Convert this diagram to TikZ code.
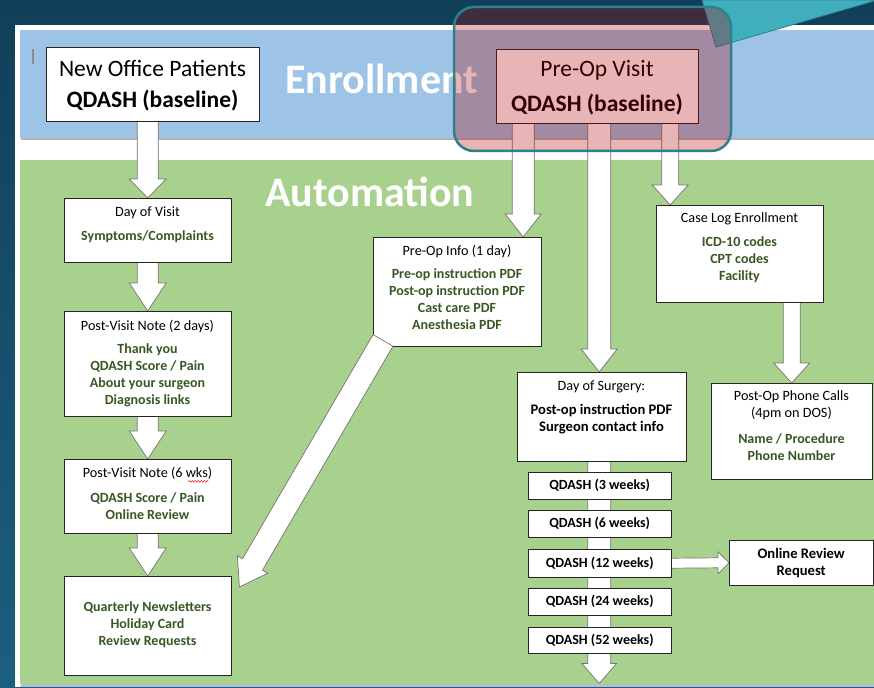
\documentclass[tikz,border=0pt]{standalone}
\usepackage{fontspec}
\setmainfont{Carlito}
\usetikzlibrary{calc,decorations.pathmorphing}
\definecolor{bgtop}{RGB}{17,63,89}
\definecolor{bgbot}{RGB}{27,95,127}
\definecolor{bandblue}{RGB}{157,195,230}
\definecolor{bandgreen}{RGB}{169,209,142}
\definecolor{txtgreen}{RGB}{56,87,35}
\definecolor{tealshape}{RGB}{64,174,188}
\definecolor{tealedge}{RGB}{45,128,140}
\definecolor{ovl}{RGB}{175,0,0}
\newcommand{\barrow}[5]{%
  \path[arr] let \p1=(#1), \p2=(#2),
    \n1={atan2(\y2-\y1,\x2-\x1)}, \n2={veclen(\x2-\x1,\y2-\y1)} in
    [shift={(\p1)}, rotate=\n1]
    (0,-#3) -- ({\n2-#5},-#3) -- ({\n2-#5},-#4) -- (\n2,0) -- ({\n2-#5},#4) -- ({\n2-#5},#3) -- (0,#3) -- cycle;}
\begin{document}
\begin{tikzpicture}[x=1pt,y=-1pt,
  box/.style={inner sep=0pt, anchor=north west},
  arr/.style={draw=black!55, line width=0.7pt, fill=white, line join=miter},
  ttl/.style={font=\fontsize{14.2}{17}\selectfont, inner sep=0pt},
  big/.style={font=\fontsize{23.5}{28}\selectfont, inner sep=0pt},
  bigb/.style={font=\bfseries\fontsize{23.5}{28}\selectfont, inner sep=0pt},
  gb/.style={font=\bfseries\fontsize{14}{17}\selectfont, text=txtgreen, align=center, inner sep=0pt},
  kb/.style={font=\bfseries\fontsize{14.6}{17}\selectfont, align=center, inner sep=0pt},
  qb/.style={font=\bfseries\fontsize{14}{16}\selectfont, inner sep=0pt},
  band/.style={font=\bfseries\fontsize{42}{48}\selectfont, text=white, inner sep=0pt}]
\useasboundingbox (0,0) rectangle (874,687);
% background
\shade[top color=bgtop, bottom color=bgbot] (0,0) rectangle (874,687);
\fill[white] (15,25) rectangle (874,687);
\fill[black!30] (21,32) rectangle (874,140);
\fill[bandblue] (20,30) rectangle (874,138);
\fill[black!25] (21,162) rectangle (874,686);
\fill[bandgreen] (20,160) rectangle (874,684);
\fill[bandblue] (20,686) rectangle (874,687);
\draw[black!45, line width=1.2pt] (33,49) -- (33,64);
\node[band] (enr) at (381.5,79) {Enrollment};
\node[band] (aut) at (370,192) {Automation};
% boxes (positions)
\path
  (46,47) node[box, minimum width=213pt, minimum height=74pt] (newop) {}
  (496,49) node[box, minimum width=202pt, minimum height=74pt] (preop) {}
  (64,198) node[box, minimum width=167pt, minimum height=64pt] (dayv) {}
  (64,311) node[box, minimum width=167pt, minimum height=105pt] (pv2) {}
  (64,459) node[box, minimum width=167pt, minimum height=74pt] (pv6) {}
  (64,576) node[box, minimum width=167pt, minimum height=99pt] (quart) {}
  (373,237) node[box, minimum width=168pt, minimum height=109pt] (preinfo) {}
  (656,205) node[box, minimum width=167pt, minimum height=97pt] (caselog) {}
  (711,383) node[box, minimum width=161pt, minimum height=96pt] (phone) {}
  (517,372) node[box, minimum width=169pt, minimum height=89pt] (dos) {}
  (528,472) node[box, minimum width=143pt, minimum height=27pt] (q3) {}
  (528,510) node[box, minimum width=143pt, minimum height=27pt] (q6) {}
  (528,549) node[box, minimum width=143pt, minimum height=28pt] (q12) {}
  (528,588) node[box, minimum width=143pt, minimum height=27pt] (q24) {}
  (528,627) node[box, minimum width=143pt, minimum height=26pt] (q52) {}
  (729,540) node[box, minimum width=144pt, minimum height=45pt] (review) {};
% arrows behind boxes
\coordinate (pa) at ($(preop.south)+(-74,0)$);
\coordinate (pb) at ($(preop.south)+(2,0)$);
\coordinate (pc) at ($(preop.south)+(73,0)$);
\coordinate (dend) at ($(pb |- dos.south)+(0,222)$);
\barrow{dayv.north |- newop.south}{dayv.north}{10.5}{18.5}{19}
\barrow{dayv.south}{pv2.north}{10.5}{18.5}{28}
\barrow{pv2.south}{pv6.north}{10.5}{18.5}{28}
\barrow{pv6.south}{quart.north}{10.5}{18.5}{28}
\barrow{pa}{pa |- preinfo.north}{11}{18}{23}
\barrow{pb}{pb |- dos.north}{11.5}{18}{23}
\barrow{pc}{pc |- caselog.north}{8.5}{18}{20}
\barrow{phone.north |- caselog.south}{phone.north}{8.5}{18}{20}
\barrow{pb |- dos.south}{dend}{11.5}{17.5}{20}
\barrow{q12.east}{review.west}{5}{11}{11}
% visible boxes
\foreach \b in {newop,preop,dayv,pv2,pv6,quart,preinfo,caselog,phone,dos,q3,q6,q12,q24,q52,review}
  \draw[black!85, line width=0.8pt, fill=white] (\b.north west) rectangle (\b.south east);
% texts
\node[big] (t1) at (152.5,68) {New Office Patients};
\node[bigb] (t2) at (152.5,101) {QDASH (baseline)};
\node[big] (t3) at (597,70) {Pre-Op Visit};
\node[bigb] (t4) at (597,105) {QDASH (baseline)};
\node[ttl] (t5) at (147.5,213) {Day of Visit};
\node[gb] (t6) at (147.5,237) {Symptoms/Complaints};
\node[ttl] (t7) at (147.5,326) {Post-Visit Note (2 days)};
\node[gb] (t8) at (147.5,375.5) {Thank you\\QDASH Score / Pain\\About your surgeon\\Diagnosis links};
\node[ttl] (t9) at (147.5,473) {Post-Visit Note (6 wks)};
\node[gb] (t10) at (147.5,506) {QDASH Score / Pain\\Online Review};
\node[gb] (t11) at (147.5,624.5) {Quarterly Newsletters\\Holiday Card\\Review Requests};
\node[ttl] (t12) at (457,251) {Pre-Op Info (1 day)};
\node[gb] (t13) at (457,299.5) {Pre-op instruction PDF\\Post-op instruction PDF\\Cast care PDF\\Anesthesia PDF};
\node[ttl] (t14) at (739.5,219) {Case Log Enrollment};
\node[gb] (t15) at (739.5,260) {ICD-10 codes\\CPT codes\\Facility};
\node[ttl, align=center] (t16) at (791.5,405.5) {Post-Op Phone Calls\\(4pm on DOS)};
\node[gb] (t17) at (791.5,447.5) {Name / Procedure\\Phone Number};
\node[ttl] (t18) at (601.5,387) {Day of Surgery:};
\node[kb] (t19) at (601.5,419.5) {Post-op instruction PDF\\Surgeon contact info};
\node[qb] (t20) at (q3) {QDASH (3 weeks)};
\node[qb] (t21) at (q6) {QDASH (6 weeks)};
\node[qb] (t22) at (q12) {QDASH (12 weeks)};
\node[qb] (t23) at (q24) {QDASH (24 weeks)};
\node[qb] (t24) at (q52) {QDASH (52 weeks)};
\node[kb] (t25) at (review) {Online Review\\Request};
\draw[red, line width=0.5pt, decorate, decoration={snake, amplitude=0.8pt, segment length=3pt}] ($(t9.south east)+(-24,2)$) -- ($(t9.south east)+(-4,2)$);
% diagonal arrow over Pre-Op Info
\coordinate (fs) at ($(preinfo.south west)+(10,-6)$);
\coordinate (fe) at ($(quart.north east)+(8,11)$);
\barrow{fs}{fe}{11.5}{17.5}{26}
% callout shape and highlight
\draw[tealedge, line width=0.8pt, fill=tealshape] (702,0) -- (716,47) -- (874,1) -- (874,0) -- cycle;
\draw[tealedge, line width=2.5pt, fill=ovl, fill opacity=0.29, rounded corners=20pt] (454,7) rectangle (731,151);
\end{tikzpicture}
\end{document}
